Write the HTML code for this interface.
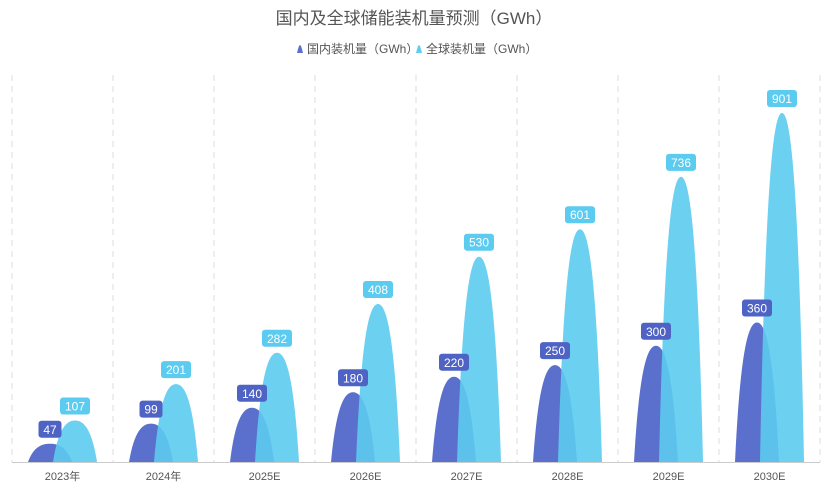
<!DOCTYPE html>
<html><head><meta charset="utf-8"><style>
body{margin:0;background:#fff;font-family:"Liberation Sans","Noto Sans CJK SC",sans-serif}
svg{display:block}
</style></head><body>
<svg id="c" width="828" height="486" font-family="Liberation Sans, Noto Sans CJK SC, sans-serif">
<text x="414" y="24" text-anchor="middle" font-size="17" fill="#555">国内及全球储能装机量预测（GWh）</text>
<g>
<g><path d="M297,53 L303,53 C302,49 301,45 300,45 C299,45 298,49 297,53Z" fill="#5b70cc"/><text x="307" y="53" font-size="12" fill="#555">国内装机量（GWh）</text></g>
<g><path d="M416,53 L422,53 C421,49 420,45 419,45 C418,45 417,49 416,53Z" fill="#62cdf0"/><text x="426" y="53" font-size="12" fill="#555">全球装机量（GWh）</text></g>
</g>
<g id="grid"></g><g id="marks"></g><g id="labels"></g>
</svg>
<script>
const categories=["2023年","2024年","2025E","2026E","2027E","2028E","2029E","2030E"];
const domestic=[47,99,140,180,220,250,300,360];
const globalVals=[107,201,282,408,530,601,736,901];
const NS="http://www.w3.org/2000/svg";
const leftX=12,rightX=820,base=462,topY=113,maxV=901;
const band=(rightX-leftX)/categories.length;
const xc=i=>leftX+band*(i+0.5);
const yS=v=>base-(base-topY)*v/maxV;
function mk(t,a,p){const e=document.createElementNS(NS,t);for(const k in a)e.setAttribute(k,a[k]);p.appendChild(e);return e;}
const grid=document.getElementById('grid'),marks=document.getElementById('marks'),labels=document.getElementById('labels');
for(let i=0;i<=categories.length;i++){
 const l=mk('line',{x1:leftX+band*i,x2:leftX+band*i,y1:75,y2:base,stroke:'#ddd','stroke-dasharray':'6,5'},grid);
 
 
}
const ax=mk('line',{x1:leftX,x2:rightX,y1:base+0.5,y2:base+0.5,stroke:'#ccc'},grid);


function shape(cx,v,color,op,name){
 const w=44,x0=cx-w/2,yt=yS(v),h=base-yt;
 const d=`M${x0},${base} C${x0+w*0.12},${yt+h*0.2} ${x0+w*0.3},${yt} ${cx},${yt} C${x0+w*0.7},${yt} ${x0+w*0.88},${yt+h*0.2} ${x0+w},${base} Z`;
 const p=mk('path',{d:d,fill:color,'fill-opacity':op},marks);
 
 
}
function label(cx,v,color,name){
 const yt=yS(v)-14,s=String(v),w=s.length*7+9;
 const g=mk('g',{},labels);
 
 
 mk('rect',{x:cx-w/2,y:yt-9,width:w,height:17,rx:3,fill:color},g);
 const t=mk('text',{x:cx,y:yt+4,'text-anchor':'middle','font-size':12,fill:'#fff'},g);t.textContent=s;
}
categories.forEach((c,i)=>{
 const cx=xc(i);
 shape(cx-12.5,domestic[i],'#5b70cc',1,'bar-domestic-'+i);
 shape(cx+12.5,globalVals[i],'#5ccbf0',0.9,'bar-global-'+i);
 label(cx-12.5,domestic[i],'#4f63c4','label-domestic-'+i);
 label(cx+12.5,globalVals[i],'#5ccbf0','label-global-'+i);
 const t=mk('text',{x:cx,y:480,'text-anchor':'middle','font-size':11,fill:'#555'},grid);
 t.textContent=c;
 
 
});
</script>
</body></html>
